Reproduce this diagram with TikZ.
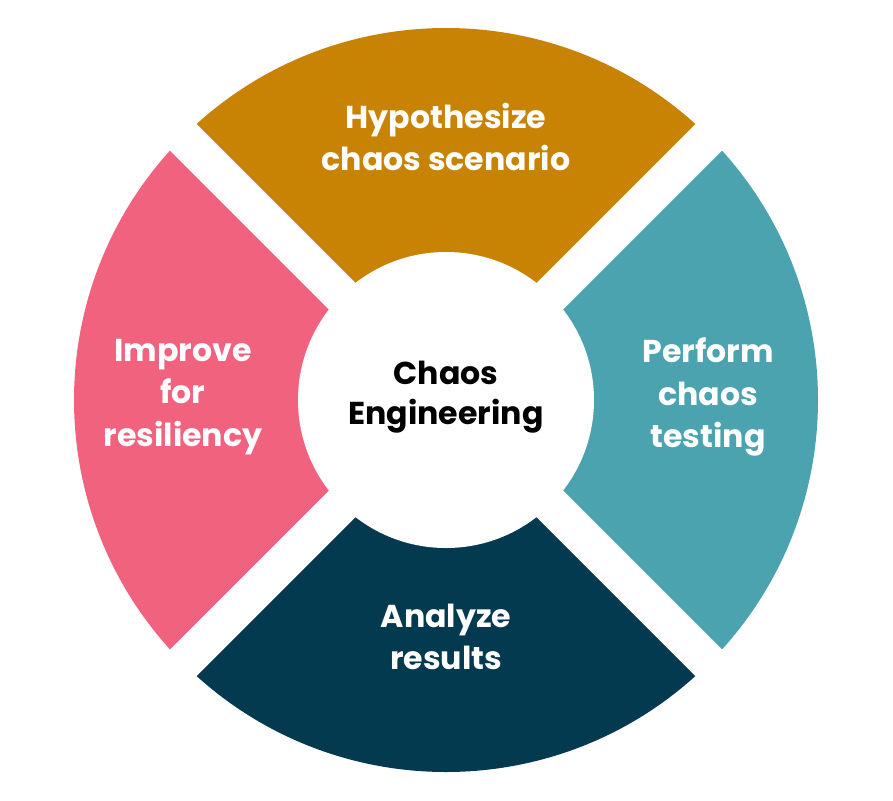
\documentclass[tikz,border=0pt]{standalone}
\usepackage{fontspec}
\setmainfont{Poppins}
\definecolor{cgold}{HTML}{C98304}
\definecolor{cteal}{HTML}{4AA3AE}
\definecolor{cdark}{HTML}{043A4F}
\definecolor{cpink}{HTML}{F0627E}
\begin{document}
\begin{tikzpicture}[x=0.03cm,y=-0.03cm,
  lbl/.style={text=white,font=\fontsize{27}{36}\selectfont\bfseries,align=center},
  gap/.style={white,line width=32pt}]
\useasboundingbox (0,0) rectangle (893,800);
\coordinate (c) at (446,400);
\fill[cdark] (c) -- ++(135:372) arc[start angle=135,end angle=45,radius=372] -- cycle;
\fill[cteal] (c) -- ++(45:372) arc[start angle=45,end angle=-45,radius=372] -- cycle;
\fill[cgold] (c) -- ++(-45:372) arc[start angle=-45,end angle=-135,radius=372] -- cycle;
\fill[cpink] (c) -- ++(-135:372) arc[start angle=-135,end angle=-225,radius=372] -- cycle;
\foreach \a in {45,135,225,315} \draw[gap] (c) -- ++(\a:400);
\node[circle,fill=white,minimum size=296*0.03cm] (hub) at (c) {};
\node[font=\fontsize{27}{34}\selectfont\bfseries,align=center] (center) at (446,397) {Chaos\\Engineering};
\node[lbl] (hyp) at (446,137) {Hypothesize\\chaos scenario};
\node[lbl] (perf) at (708,397) {Perform\\chaos\\testing};
\node[lbl] (ana) at (446,637) {Analyze\\results};
\node[lbl] (imp) at (183,397) {Improve\\for\\resiliency};
\end{tikzpicture}
\end{document}
